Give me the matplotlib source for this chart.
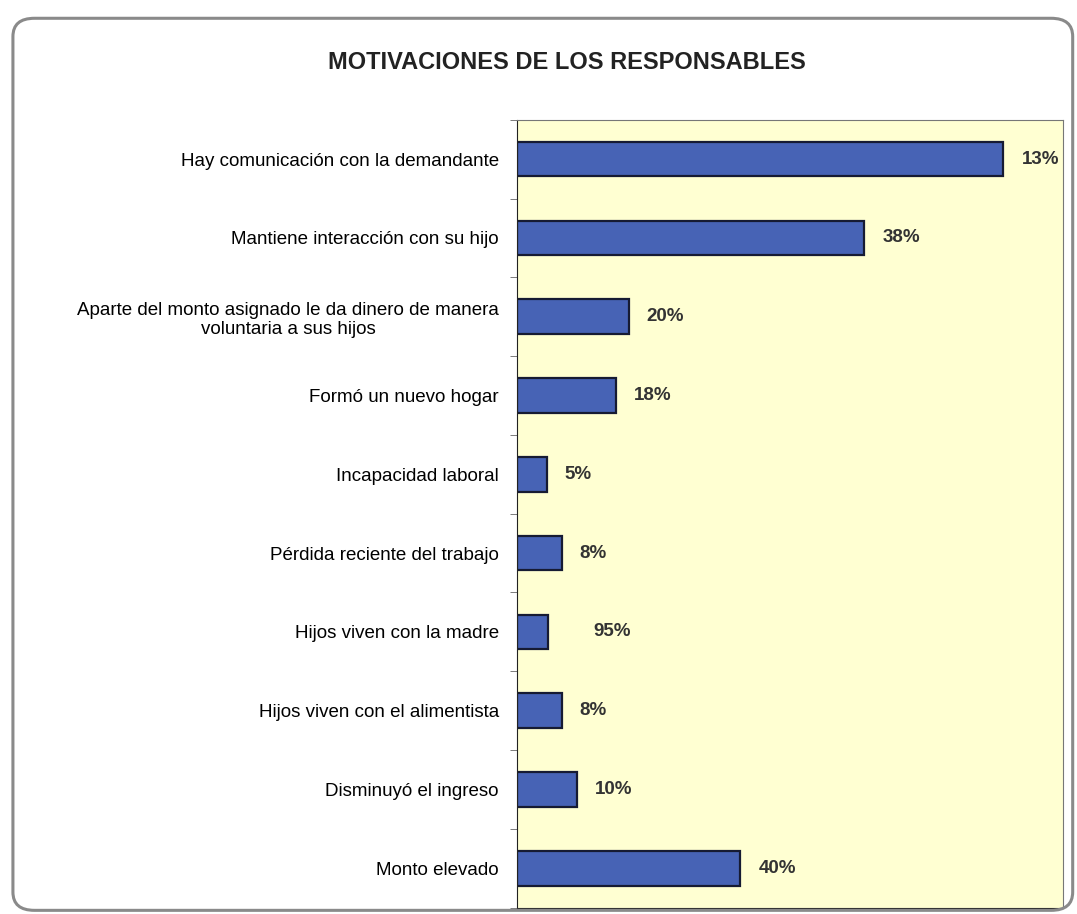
import numpy as np
import matplotlib
matplotlib.use('Agg')
import matplotlib.pyplot as plt
from matplotlib.patches import FancyBboxPatch

plt.rcParams['font.family'] = ['Liberation Sans', 'DejaVu Sans']

# categorias (de arriba hacia abajo), largo de barra y etiqueta mostrada
categorias = [
    'Hay comunicación con la demandante',
    'Mantiene interacción con su hijo',
    'Aparte del monto asignado le da dinero de manera\nvoluntaria a sus hijos',
    'Formó un nuevo hogar',
    'Incapacidad laboral',
    'Pérdida reciente del trabajo',
    'Hijos viven con la madre',
    'Hijos viven con el alimentista',
    'Disminuyó el ingreso',
    'Monto elevado',
]
valores = [98, 70, 22.5, 20, 6, 9, 6.2, 9, 12, 45]
etiquetas = ['13%', '38%', '20%', '18%', '5%', '8%', '95%', '8%', '10%', '40%']

fig = plt.figure(figsize=(10.77, 9.14), dpi=100)

# marco redondeado de la figura
marco = FancyBboxPatch((0.012, 0.004), 0.984, 0.976,
                       boxstyle='round,pad=0,rounding_size=0.02',
                       transform=fig.transFigure, fill=False,
                       edgecolor='#8a8a8a', linewidth=2.2)
fig.patches.append(marco)

ax = fig.add_axes([0.480, 0.007, 0.507, 0.862])
ax.set_facecolor('#ffffd2')

y = np.arange(len(categorias))
ax.barh(y, valores, height=0.44, color='#4763b5', edgecolor='#161b33', linewidth=1.6)
ax.set_xlim(0, 110)
ax.set_ylim(len(categorias) - 0.5, -0.5)

for i in range(len(valores)):
    extra = 20 if etiquetas[i] == '95%' else 0
    ax.annotate(etiquetas[i], (valores[i], y[i]), xytext=(13 + extra, 0),
                textcoords='offset points', va='center', ha='left',
                fontsize=13.5, fontweight='bold', color='#333333')

ax.set_yticks(y)
ax.set_yticklabels(categorias, fontsize=13.5, multialignment='center')
ax.tick_params(axis='y', which='major', length=0, pad=13)
ax.set_yticks(np.arange(len(categorias) + 1) - 0.5, minor=True)
ax.tick_params(axis='y', which='minor', length=5, color='#666666')
ax.set_xticks([])

for lado in ['top', 'right']:
    ax.spines[lado].set_color('#777777')
ax.spines['left'].set_color('#222222')
ax.spines['bottom'].set_color('#222222')

fig.text(0.526, 0.932, 'MOTIVACIONES DE LOS RESPONSABLES', ha='center', va='center',
         fontsize=17, fontweight='bold', color='#222222')

fig.savefig('out.png', dpi=100)
